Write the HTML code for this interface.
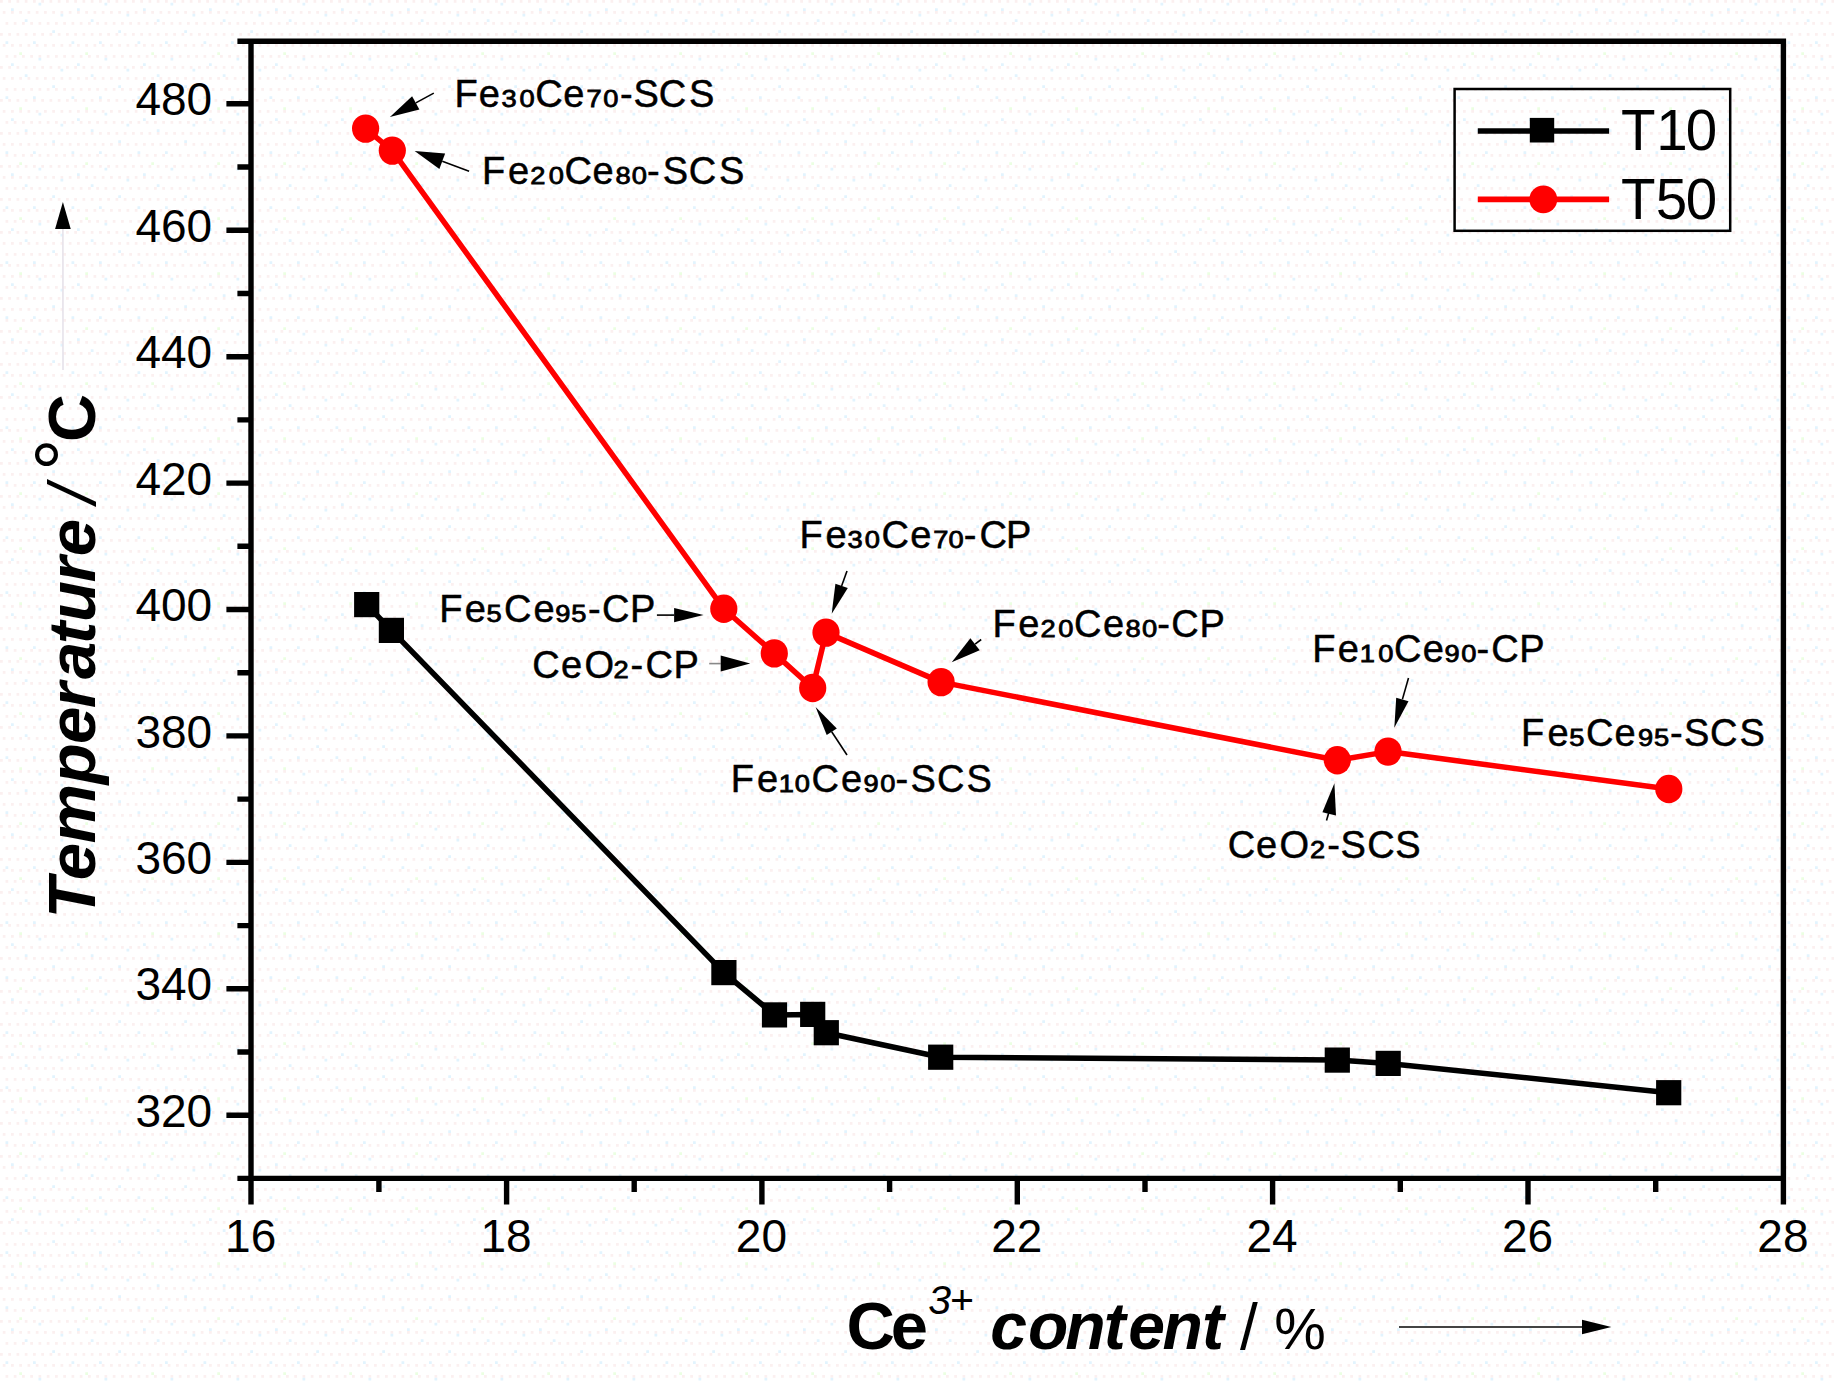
<!DOCTYPE html>
<html><head><meta charset="utf-8"><title>Temperature vs Ce3+ content</title>
<style>html,body{margin:0;padding:0;background:#fff;}svg{display:block}.d{font-size:23.5px;stroke-width:.8px}</style></head>
<body>
<svg width="1834" height="1382" viewBox="0 0 1834 1382" font-family="'Liberation Sans', Arial, sans-serif">
<defs><pattern id="dp" width="8.25" height="33" patternUnits="userSpaceOnUse"><rect x="0" y="0" width="2.75" height="2.75" fill="#fbf0f0"/><rect x="2.75" y="11" width="2.75" height="2.75" fill="#fbf0f0"/><rect x="5.5" y="22" width="2.75" height="2.75" fill="#fbf0f0"/></pattern><pattern id="db" width="66" height="55" patternUnits="userSpaceOnUse" fill="#e2f4fe"><rect x="11" y="8.25" width="2.75" height="2.75"/><rect x="38.5" y="2.75" width="2.75" height="2.75"/><rect x="24.75" y="19.25" width="2.75" height="2.75"/><rect x="52.25" y="30.25" width="2.75" height="2.75"/><rect x="5.5" y="41.25" width="2.75" height="2.75"/><rect x="33" y="41.25" width="2.75" height="2.75"/><rect x="60.5" y="13.75" width="2.75" height="2.75"/><rect x="19.25" y="52.25" width="2.75" height="2.75" fill="#ebffe2"/></pattern></defs>
<rect width="1834" height="1382" fill="#fff"/>
<rect width="1834" height="1382" fill="url(#dp)"/>
<rect width="1834" height="1382" fill="url(#db)"/>
<g stroke="#000" stroke-width="5.4" fill="none" stroke-linecap="butt">
<path d="M251.0 38.5 V1204.5 M1783.4 38.5 V1204.5 M237.4 41.2 H1786.1000000000001 M237.4 1178.4 H1786.1000000000001"/>
<path d="M226.4 1115.2 H251.0 M226.4 988.8 H251.0 M226.4 862.4 H251.0 M226.4 735.9 H251.0 M226.4 609.5 H251.0 M226.4 483.1 H251.0 M226.4 356.7 H251.0 M226.4 230.3 H251.0 M226.4 103.8 H251.0 M237.4 1052.0 H251.0 M237.4 925.6 H251.0 M237.4 799.1 H251.0 M237.4 672.7 H251.0 M237.4 546.3 H251.0 M237.4 419.9 H251.0 M237.4 293.5 H251.0 M237.4 167.0 H251.0 M506.6 1178.4 V1204.5 M761.9 1178.4 V1204.5 M1017.3 1178.4 V1204.5 M1272.6 1178.4 V1204.5 M1528.0 1178.4 V1204.5 M378.9 1178.4 V1192 M634.2 1178.4 V1192 M889.6 1178.4 V1192 M1145.0 1178.4 V1192 M1400.3 1178.4 V1192 M1655.7 1178.4 V1192"/>
</g>
<g font-size="46" fill="#000">
<text x="212.2" y="1126.8" text-anchor="end">320</text>
<text x="212.2" y="1000.4" text-anchor="end">340</text>
<text x="212.2" y="874.0" text-anchor="end">360</text>
<text x="212.2" y="747.5" text-anchor="end">380</text>
<text x="212.2" y="621.1" text-anchor="end">400</text>
<text x="212.2" y="494.7" text-anchor="end">420</text>
<text x="212.2" y="368.3" text-anchor="end">440</text>
<text x="212.2" y="241.9" text-anchor="end">460</text>
<text x="212.2" y="115.4" text-anchor="end">480</text>
<text x="250.7" y="1252" text-anchor="middle">16</text>
<text x="506.1" y="1252" text-anchor="middle">18</text>
<text x="761.4" y="1252" text-anchor="middle">20</text>
<text x="1016.8" y="1252" text-anchor="middle">22</text>
<text x="1272.1" y="1252" text-anchor="middle">24</text>
<text x="1527.5" y="1252" text-anchor="middle">26</text>
<text x="1782.9" y="1252" text-anchor="middle">28</text>
</g>
<polyline points="366.7,604.6 391.4,630.4 723.9,972.6 774.5,1014.9 812.7,1014.4 826.3,1032.7 940.7,1057.2 1337.3,1060.1 1388.2,1063.4 1668.7,1092.7" fill="none" stroke="#000" stroke-width="5.5" stroke-linejoin="round"/>
<rect x="354.1" y="592.0" width="25.2" height="25.2" fill="#000"/>
<rect x="378.8" y="617.8" width="25.2" height="25.2" fill="#000"/>
<rect x="711.3" y="960.0" width="25.2" height="25.2" fill="#000"/>
<rect x="761.9" y="1002.3" width="25.2" height="25.2" fill="#000"/>
<rect x="800.1" y="1001.8" width="25.2" height="25.2" fill="#000"/>
<rect x="813.7" y="1020.1" width="25.2" height="25.2" fill="#000"/>
<rect x="928.1" y="1044.6" width="25.2" height="25.2" fill="#000"/>
<rect x="1324.7" y="1047.5" width="25.2" height="25.2" fill="#000"/>
<rect x="1375.6" y="1050.8" width="25.2" height="25.2" fill="#000"/>
<rect x="1656.1" y="1080.1" width="25.2" height="25.2" fill="#000"/>
<polyline points="365.6,128.6 392.3,150.6 723.8,608.8 774.3,653.4 812.7,688.0 826.0,632.6 941.1,682.1 1337.3,760.2 1388.0,751.6 1668.8,789.0" fill="none" stroke="#ff0000" stroke-width="5.5" stroke-linejoin="round"/>
<ellipse cx="365.6" cy="128.6" rx="13.6" ry="14.2" fill="#ff0000"/>
<ellipse cx="392.3" cy="150.6" rx="13.6" ry="14.2" fill="#ff0000"/>
<ellipse cx="723.8" cy="608.8" rx="13.6" ry="14.2" fill="#ff0000"/>
<ellipse cx="774.3" cy="653.4" rx="13.6" ry="14.2" fill="#ff0000"/>
<ellipse cx="812.7" cy="688.0" rx="13.6" ry="14.2" fill="#ff0000"/>
<ellipse cx="826.0" cy="632.6" rx="13.6" ry="14.2" fill="#ff0000"/>
<ellipse cx="941.1" cy="682.1" rx="13.6" ry="14.2" fill="#ff0000"/>
<ellipse cx="1337.3" cy="760.2" rx="13.6" ry="14.2" fill="#ff0000"/>
<ellipse cx="1388.0" cy="751.6" rx="13.6" ry="14.2" fill="#ff0000"/>
<ellipse cx="1668.8" cy="789.0" rx="13.6" ry="14.2" fill="#ff0000"/>
<rect x="1454.6" y="89" width="275.6" height="141.8" fill="none" stroke="#000" stroke-width="2.5"/>
<path d="M1477.8 131 H1609.1" stroke="#000" stroke-width="5.6"/>
<rect x="1529.8" y="117.9" width="24.4" height="24.6" fill="#000"/>
<path d="M1477.8 199.4 H1609.1" stroke="#f00" stroke-width="5.6"/>
<circle cx="1543.3" cy="199.4" r="13.9" fill="#f00"/>
<path d="M433.8 93.1 L415.8 102.9" stroke="#000" stroke-width="1.6" fill="none"/>
<path d="M389.9 117.1 L419.4 109.6 L412.1 96.3 Z" fill="#000"/>
<path d="M469.1 171.2 L442.3 161.3" stroke="#000" stroke-width="1.6" fill="none"/>
<path d="M414.6 151.1 L439.4 169.0 L445.1 153.6 Z" fill="#000"/>
<path d="M656.9 615.1 L674.1 615.1" stroke="#000" stroke-width="1.6" fill="none"/>
<path d="M703.6 615.1 L674.1 607.9 L674.1 622.3 Z" fill="#000"/>
<path d="M709.2 663.6 L720.7 663.6" stroke="#888" stroke-width="1.6" fill="none"/>
<path d="M750.2 663.6 L720.7 655.6 L720.7 671.6 Z" fill="#000"/>
<path d="M847.0 570.9 L841.6 585.9" stroke="#000" stroke-width="1.6" fill="none"/>
<path d="M831.7 613.7 L847.8 588.1 L835.4 583.7 Z" fill="#000"/>
<path d="M847.0 755.0 L831.7 731.7" stroke="#000" stroke-width="1.6" fill="none"/>
<path d="M815.6 707.0 L826.7 735.0 L836.8 728.4 Z" fill="#000"/>
<path d="M981.2 639.5 L975.1 644.2" stroke="#000" stroke-width="1.6" fill="none"/>
<path d="M951.7 662.2 L979.7 650.2 L970.4 638.2 Z" fill="#000"/>
<path d="M1408.5 678.0 L1402.4 699.4" stroke="#000" stroke-width="1.6" fill="none"/>
<path d="M1394.3 727.8 L1408.5 701.2 L1396.2 697.7 Z" fill="#000"/>
<path d="M1326.5 820.5 L1329 812" stroke="#000" stroke-width="1.6" fill="none"/><path d="M1334.4 783.2 L1336 815.5 L1322.4 812.2 Z" fill="#000"/>
<path d="M63.0 370.0 L62.9 229.0" stroke="#e6e2ea" stroke-width="1.6" fill="none"/>
<path d="M62.9 202.0 L55.1 229.0 L70.7 229.0 Z" fill="#000"/>
<path d="M1399.0 1327.0 L1582.0 1327.0" stroke="#444" stroke-width="2.2" fill="none"/>
<path d="M1611.4 1327.0 L1582.0 1319.8 L1582.0 1334.2 Z" fill="#000"/>
<g class="lab" font-size="38" fill="#000" stroke="#000" stroke-width="0.5">
<text y="106.8"><tspan x="454.6 478.7">Fe</tspan><tspan class="d" x="501.5" textLength="15.16" lengthAdjust="spacingAndGlyphs">3</tspan><tspan class="d" x="519.5" textLength="15.16" lengthAdjust="spacingAndGlyphs">0</tspan><tspan x="535.3 563.3">Ce</tspan><tspan class="d" x="586.4" textLength="15.16" lengthAdjust="spacingAndGlyphs">7</tspan><tspan class="d" x="603.3" textLength="15.16" lengthAdjust="spacingAndGlyphs">0</tspan><tspan x="620.1 633.6 658.7 688.9">-SCS</tspan></text>
<text y="184.0"><tspan x="481.9 507.9">Fe</tspan><tspan class="d" x="530.3" textLength="15.16" lengthAdjust="spacingAndGlyphs">2</tspan><tspan class="d" x="548.8" textLength="15.16" lengthAdjust="spacingAndGlyphs">0</tspan><tspan x="564.6 592.5">Ce</tspan><tspan class="d" x="615.5" textLength="15.16" lengthAdjust="spacingAndGlyphs">8</tspan><tspan class="d" x="631.8" textLength="15.16" lengthAdjust="spacingAndGlyphs">0</tspan><tspan x="647.0 662.8 688.7 718.9">-SCS</tspan></text>
<text y="548.4"><tspan x="799.6 825.6">Fe</tspan><tspan class="d" x="847.5" textLength="15.16" lengthAdjust="spacingAndGlyphs">3</tspan><tspan class="d" x="864.8" textLength="15.16" lengthAdjust="spacingAndGlyphs">0</tspan><tspan x="881.4 910.2">Ce</tspan><tspan class="d" x="933.3" textLength="15.16" lengthAdjust="spacingAndGlyphs">7</tspan><tspan class="d" x="948.6" textLength="15.16" lengthAdjust="spacingAndGlyphs">0</tspan><tspan x="963.8 979.4 1005.9">-CP</tspan></text>
<text y="621.5"><tspan x="439.2 464.8">Fe</tspan><tspan class="d" x="486.6" textLength="15.16" lengthAdjust="spacingAndGlyphs">5</tspan><tspan x="504.0 533.6">Ce</tspan><tspan class="d" x="555.2" textLength="15.16" lengthAdjust="spacingAndGlyphs">9</tspan><tspan class="d" x="571.2" textLength="15.16" lengthAdjust="spacingAndGlyphs">5</tspan><tspan x="588.0 602.0 630.1">-CP</tspan></text>
<text y="678.2"><tspan x="532.3 561.1 584.6">CeO</tspan><tspan class="d" x="613.5" textLength="15.16" lengthAdjust="spacingAndGlyphs">2</tspan><tspan x="630.6 645.4 673.4">-CP</tspan></text>
<text y="791.5"><tspan x="730.8 757.1">Fe</tspan><tspan class="d" x="778.8" textLength="15.16" lengthAdjust="spacingAndGlyphs">1</tspan><tspan class="d" x="794.8" textLength="15.16" lengthAdjust="spacingAndGlyphs">0</tspan><tspan x="811.4 840.9">Ce</tspan><tspan class="d" x="863.4" textLength="15.16" lengthAdjust="spacingAndGlyphs">9</tspan><tspan class="d" x="880.2" textLength="15.16" lengthAdjust="spacingAndGlyphs">0</tspan><tspan x="895.4 910.4 937.1 966.6">-SCS</tspan></text>
<text y="637.2"><tspan x="992.6 1018.3">Fe</tspan><tspan class="d" x="1040.6" textLength="15.16" lengthAdjust="spacingAndGlyphs">2</tspan><tspan class="d" x="1058.3" textLength="15.16" lengthAdjust="spacingAndGlyphs">0</tspan><tspan x="1074.1 1102.9">Ce</tspan><tspan class="d" x="1125.4" textLength="15.16" lengthAdjust="spacingAndGlyphs">8</tspan><tspan class="d" x="1142.1" textLength="15.16" lengthAdjust="spacingAndGlyphs">0</tspan><tspan x="1157.3 1171.3 1199.4">-CP</tspan></text>
<text y="662.4"><tspan x="1312.2 1337.7">Fe</tspan><tspan class="d" x="1359.8" textLength="15.16" lengthAdjust="spacingAndGlyphs">1</tspan><tspan class="d" x="1378.2" textLength="15.16" lengthAdjust="spacingAndGlyphs">0</tspan><tspan x="1394.0 1422.8">Ce</tspan><tspan class="d" x="1444.5" textLength="15.16" lengthAdjust="spacingAndGlyphs">9</tspan><tspan class="d" x="1461.3" textLength="15.16" lengthAdjust="spacingAndGlyphs">0</tspan><tspan x="1476.5 1491.3 1519.3">-CP</tspan></text>
<text y="745.9"><tspan x="1520.9 1547.4">Fe</tspan><tspan class="d" x="1569.3" textLength="15.16" lengthAdjust="spacingAndGlyphs">5</tspan><tspan x="1585.9 1614.6">Ce</tspan><tspan class="d" x="1637.9" textLength="15.16" lengthAdjust="spacingAndGlyphs">9</tspan><tspan class="d" x="1653.9" textLength="15.16" lengthAdjust="spacingAndGlyphs">5</tspan><tspan x="1669.9 1684.1 1710.0 1739.4">-SCS</tspan></text>
<text y="857.9"><tspan x="1227.8 1256.1 1279.6">CeO</tspan><tspan class="d" x="1310.1" textLength="15.16" lengthAdjust="spacingAndGlyphs">2</tspan><tspan x="1327.2 1340.6 1367.3 1395.2">-SCS</tspan></text>
</g>
<text fill="#000"><tspan x="846.4 890.8" y="1349.0" font-size="67" font-weight="bold">Ce</tspan><tspan x="928.2 949.4" y="1313.8" font-size="41" font-style="italic">3+</tspan> <tspan x="990.2 1028.0 1065.3 1103.8 1128.2 1162.4 1202.0" y="1349.0" font-size="66" font-weight="bold" font-style="italic">content</tspan> <tspan x="1240.1" y="1349.0" font-size="64">/</tspan> <tspan x="1274.3" y="1349.0" font-size="58">%</tspan></text>
<text fill="#000" transform="translate(95.3,915.0) rotate(-90)"><tspan x="-3.5 34.7 71.4 130.7 171.1 206.7 235.9 270.9 293.0 332.5 358.7" y="0" font-size="67" font-weight="bold" font-style="italic">Temperature</tspan> <tspan x="411.8" y="0" font-size="67" font-style="italic">/</tspan><tspan x="444.1" y="-3.0" font-size="82">°</tspan><tspan x="473.1" y="0" font-size="66.5" font-weight="bold">C</tspan></text>
<text fill="#000"><tspan x="1620.9 1656.3 1685.7" y="150.2" font-size="56.5">T10</tspan></text>
<text fill="#000"><tspan x="1620.9 1655.8 1685.7" y="218.5" font-size="56.5">T50</tspan></text>
</svg>
</body></html>
